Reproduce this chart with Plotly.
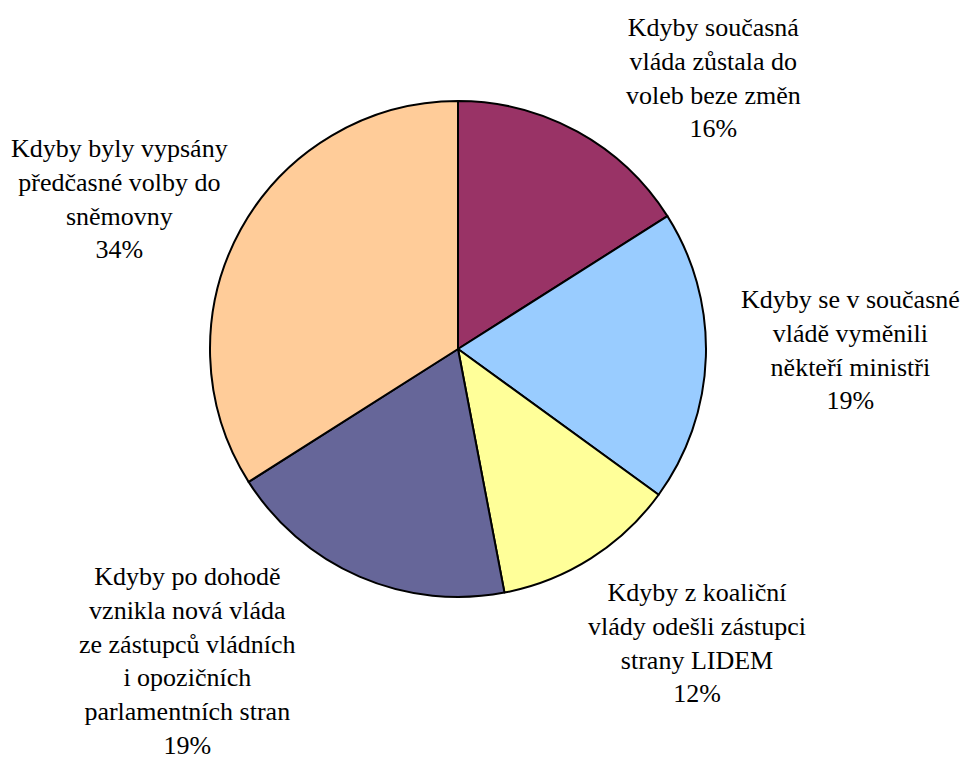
import plotly.graph_objects as go

W, H = 965, 758

labels = [
    "Kdyby současná<br>vláda zůstala do<br>voleb beze změn",
    "Kdyby se v současné<br>vládě vyměnili<br>někteří ministři",
    "Kdyby z koaliční<br>vlády odešli zástupci<br>strany LIDEM",
    "Kdyby po dohodě<br>vznikla nová vláda<br>ze zástupců vládních<br>i opozičních<br>parlamentních stran",
    "Kdyby byly vypsány<br>předčasné volby do<br>sněmovny",
]
values = [16, 19, 12, 19, 34]
colors = ["#993366", "#99CCFF", "#FFFF99", "#666699", "#FFCC99"]
# label block centres in pixels (x, y from top)
label_pos = [(713, 78), (850, 350), (697, 643), (187, 661), (119, 199)]

cx, cy, r = 458, 349, 248

fig = go.Figure(go.Pie(
    labels=labels,
    values=values,
    sort=False,
    direction="clockwise",
    rotation=0,
    marker=dict(colors=colors, line=dict(color="black", width=2)),
    textinfo="none",
    hoverinfo="label+percent",
    showlegend=False,
    domain=dict(x=[(cx - r) / W, (cx + r) / W], y=[(H - cy - r) / H, (H - cy + r) / H]),
))

total = sum(values)
for lab, v, (px, py) in zip(labels, values, label_pos):
    fig.add_annotation(
        x=px / W, y=1 - py / H, xref="paper", yref="paper",
        text=f"{lab}<br>{round(100 * v / total)}%",
        showarrow=False, xanchor="center", yanchor="middle", align="center",
        font=dict(family="'Liberation Serif', 'Times New Roman', serif", size=26, color="black"),
    )

fig.update_layout(
    width=W, height=H,
    margin=dict(l=0, r=0, t=0, b=0),
    paper_bgcolor="white", plot_bgcolor="white",
)

fig.write_html("out.html", config={"displayModeBar": False},
               post_script="document.body.style.margin='0';")
